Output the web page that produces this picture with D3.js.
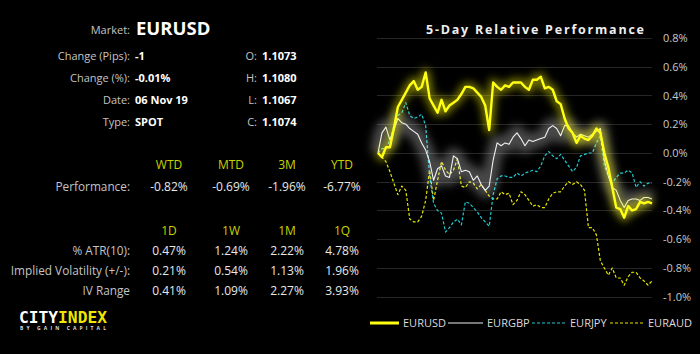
<!DOCTYPE html>
<html>
<head>
<meta charset="UTF-8">
<title>EURUSD 5-Day Relative Performance</title>
<style>
  body { margin: 0; background: #000; }
  svg { display: block; font-family: "Open Sans", sans-serif; }
  .lbl { fill: #c4c4c4; font-size: 11px; }
  .lbl2 { fill: #c4c4c4; font-size: 11.8px; }
  .val { fill: #fff; font-size: 11px; font-weight: bold; }
  .hdr { fill: #c8d200; font-size: 12px; }
  .num { fill: #e8e8e8; font-size: 12px; }
  .grid-line { stroke: #262626; stroke-width: 1; }
  .y-axis text { fill: #c8c8c8; font-size: 11px; font-family: "Open Sans", sans-serif; }
  .legend text { fill: #dcdcdc; font-size: 11px; }
</style>
</head>
<body>
<div class="panel"></div>
<script src="https://d3js.org/d3.v7.min.js"></script>
<script>
  var w = 700, h = 354;

  // market box
  var infoLeft = [["Change (Pips):", "-1"], ["Change (%):", "-0.01%"], ["Date:", "06 Nov 19"], ["Type:", "SPOT"]];
  var infoRight = [["O:", "1.1073"], ["H:", "1.1080"], ["L:", "1.1067"], ["C:", "1.1074"]];

  var perfHeaders = ["WTD", "MTD", "3M", "YTD"];
  var perfValues = ["-0.82%", "-0.69%", "-1.96%", "-6.77%"];

  var volHeaders = ["1D", "1W", "1M", "1Q"];
  var volRows = [
    ["% ATR(10):", "0.47%", "1.24%", "2.22%", "4.78%"],
    ["Implied Volatility (+/-):", "0.21%", "0.54%", "1.13%", "1.96%"],
    ["IV Range", "0.41%", "1.09%", "2.27%", "3.93%"]
  ];

  // 5-day relative performance, % (equal steps over 5 days)
  var eurusd = [0.00, -0.03, 0.04, 0.04, 0.17, 0.32, 0.37, 0.42, 0.47, 0.50,
    0.44, 0.46, 0.56, 0.38, 0.33, 0.28, 0.37, 0.29, 0.33, 0.35,
    0.37, 0.41, 0.46, 0.46, 0.45, 0.42, 0.39, 0.33, 0.16, 0.49,
    0.46, 0.44, 0.47, 0.46, 0.49, 0.49, 0.49, 0.46, 0.44, 0.51,
    0.51, 0.53, 0.45, 0.46, 0.44, 0.36, 0.34, 0.24, 0.17, 0.14,
    0.07, 0.12, 0.10, 0.09, 0.12, 0.17, 0.14, 0.00, -0.10, -0.24,
    -0.38, -0.39, -0.45, -0.37, -0.40, -0.39, -0.34, -0.35, -0.34, -0.35];
  var eurgbp = [0.00, 0.14, 0.18, 0.09, 0.16, 0.24, 0.21, 0.20, 0.17, 0.15,
    0.13, 0.07, 0.02, -0.06, -0.19, -0.11, -0.09, -0.16, -0.17, -0.02,
    -0.04, -0.13, -0.12, -0.13, -0.19, -0.16, -0.22, -0.26, -0.23, -0.05,
    0.07, 0.05, 0.07, 0.06, 0.11, 0.14, 0.10, 0.05, 0.09, 0.08,
    0.09, 0.10, 0.11, 0.17, 0.19, 0.17, 0.12, 0.19, 0.19, 0.14,
    0.11, 0.13, 0.12, 0.11, 0.13, 0.15, 0.17, -0.05, -0.16, -0.24,
    -0.26, -0.33, -0.38, -0.33, -0.32, -0.32, -0.33, -0.31, -0.31, -0.32];
  var eurjpy = [0.00, 0.03, 0.03, 0.09, 0.19, 0.26, 0.28, 0.35, 0.26, 0.24,
    0.25, 0.27, 0.19, -0.16, -0.35, -0.40, -0.42, -0.55, -0.52, -0.48,
    -0.46, -0.50, -0.34, -0.35, -0.38, -0.41, -0.45, -0.48, -0.51, -0.29,
    -0.18, -0.16, -0.16, -0.17, -0.17, -0.14, -0.16, -0.14, -0.13, -0.12,
    -0.13, -0.09, -0.02, 0.01, -0.02, -0.04, -0.01, -0.05, -0.09, -0.13,
    -0.10, -0.02, -0.01, 0.00, 0.00, 0.07, 0.12, -0.09, -0.16, -0.21,
    -0.17, -0.14, -0.14, -0.12, -0.14, -0.24, -0.20, -0.23, -0.21, -0.21];
  var euraud = [0.00, -0.03, -0.06, -0.13, -0.21, -0.29, -0.23, -0.26, -0.46, -0.48,
    -0.48, -0.44, -0.33, -0.12, -0.33, -0.19, -0.06, -0.12, -0.15, -0.12,
    -0.04, -0.23, -0.24, -0.20, -0.21, -0.25, -0.22, -0.26, -0.30, -0.32,
    -0.32, -0.27, -0.29, -0.28, -0.36, -0.33, -0.27, -0.29, -0.33, -0.37,
    -0.36, -0.38, -0.38, -0.32, -0.28, -0.27, -0.27, -0.23, -0.20, -0.22,
    -0.20, -0.22, -0.26, -0.52, -0.52, -0.57, -0.75, -0.80, -0.85, -0.80,
    -0.87, -0.87, -0.92, -0.86, -0.83, -0.83, -0.87, -0.89, -0.92, -0.89];

  var yTicks = [0.8, 0.6, 0.4, 0.2, 0.0, -0.2, -0.4, -0.6, -0.8, -1.0];

  var series = [
    { name: "EURUSD", values: eurusd, color: "#ffff14", width: 2.4, dash: null, glow: "#ffff00", glowW: 8, glowO: 0.5 },
    { name: "EURGBP", values: eurgbp, color: "#f0f0f0", width: 1.1, dash: null, glow: "#ffffff", glowW: 16, glowO: 0.28 },
    { name: "EURJPY", values: eurjpy, color: "#1ec9d2", width: 1.2, dash: "3,2", glow: null },
    { name: "EURAUD", values: euraud, color: "#e6e600", width: 1.2, dash: "3,2", glow: null }
  ];

  var SVG = d3.select("div.panel").append("svg")
    .attr("width", w).attr("height", h);

  SVG.append("rect").attr("width", w).attr("height", h).attr("fill", "#000");

  var defs = SVG.append("defs");
  defs.append("filter").attr("id", "glow")
    .attr("x", "-20%").attr("y", "-20%").attr("width", "140%").attr("height", "140%")
    .append("feGaussianBlur").attr("stdDeviation", 4.5);

  /* ---------- left panel ---------- */
  var left = SVG.append("g");

  left.append("text").attr("class", "lbl").attr("x", 130).attr("y", 34)
    .attr("text-anchor", "end").text("Market:");
  left.append("text").attr("x", 136).attr("y", 34.5)
    .attr("fill", "#fff").attr("font-size", 18.5).attr("font-weight", "bold")
    .text("EURUSD");

  var rowY = d3.scaleLinear().domain([0, 1]).range([59.5, 81.5]);

  infoLeft.forEach(function(d, i) {
    left.append("text").attr("class", "lbl").attr("x", 130).attr("y", rowY(i))
      .attr("text-anchor", "end").text(d[0]);
    left.append("text").attr("class", "val").attr("x", 135).attr("y", rowY(i)).text(d[1]);
  });
  infoRight.forEach(function(d, i) {
    left.append("text").attr("class", "lbl").attr("x", 257).attr("y", rowY(i))
      .attr("text-anchor", "end").text(d[0]);
    left.append("text").attr("class", "val").attr("x", 262).attr("y", rowY(i)).text(d[1]);
  });

  var colPos = [169, 231, 287, 342];

  perfHeaders.forEach(function(d, i) {
    left.append("text").attr("class", "hdr").attr("x", colPos[i]).attr("y", 168.5)
      .attr("text-anchor", "middle").text(d);
    left.append("text").attr("class", "num").attr("x", colPos[i]).attr("y", 191)
      .attr("text-anchor", "middle").text(perfValues[i]);
  });
  left.append("text").attr("class", "lbl2").attr("x", 130).attr("y", 191)
    .attr("text-anchor", "end").text("Performance:");

  volHeaders.forEach(function(d, i) {
    left.append("text").attr("class", "hdr").attr("x", colPos[i]).attr("y", 235)
      .attr("text-anchor", "middle").text(d);
  });
  volRows.forEach(function(r, j) {
    var y = 255 + j * 20;
    left.append("text").attr("class", "lbl2").attr("x", 130).attr("y", y)
      .attr("text-anchor", "end").text(r[0]);
    r.slice(1).forEach(function(v, i) {
      left.append("text").attr("class", "num").attr("x", colPos[i]).attr("y", y)
        .attr("text-anchor", "middle").text(v);
    });
  });

  // logo
  var logo = left.append("text").attr("x", 19).attr("y", 322.5)
    .attr("font-family", "DejaVu Sans Mono, monospace").attr("font-weight", "bold")
    .attr("font-size", 16).attr("textLength", 88).attr("lengthAdjust", "spacingAndGlyphs");
  logo.append("tspan").attr("fill", "#fff").text("CITY");
  logo.append("tspan").attr("fill", "#f2e600").text("INDEX");
  left.append("text").attr("x", 20).attr("y", 330)
    .attr("fill", "#ddd").attr("font-size", 5).attr("font-weight", "bold")
    .attr("textLength", 86).attr("lengthAdjust", "spacing")
    .text("BY GAIN CAPITAL");

  /* ---------- chart ---------- */
  var xScale = d3.scaleLinear().domain([0, eurusd.length - 1]).range([378, 652]);
  var yScale = d3.scaleLinear().domain([-1.0, 0.8]).range([296.7, 38]);

  SVG.append("text").attr("x", 426).attr("y", 34)
    .attr("fill", "#eee").attr("font-size", 12.5).attr("font-weight", "bold")
    .attr("textLength", 218).attr("lengthAdjust", "spacing")
    .text("5-Day Relative Performance");

  SVG.append("g").selectAll("line").data(yTicks).enter().append("line")
    .attr("class", "grid-line")
    .attr("x1", 377).attr("x2", 652)
    .attr("y1", function(d) { return Math.round(yScale(d)) + 0.5; })
    .attr("y2", function(d) { return Math.round(yScale(d)) + 0.5; });

  var yAxis = d3.axisRight(yScale).tickValues(yTicks).tickSize(0).tickPadding(0)
    .tickFormat(function(d) { return d3.format(".1f")(d).replace("\u2212", "-") + "%"; });
  var ga = SVG.append("g").attr("class", "y-axis")
    .attr("transform", "translate(663,0)").call(yAxis);
  ga.select(".domain").remove();

  var line = d3.line()
    .x(function(d, i) { return xScale(i); })
    .y(function(d) { return yScale(d); });

  var order = [series[3], series[2], series[1], series[0]];
  order.forEach(function(s) {
    if (s.glow) {
      SVG.append("path").datum(s.values)
        .attr("d", line).attr("fill", "none")
        .attr("stroke", s.glow).attr("stroke-width", s.glowW)
        .attr("stroke-opacity", s.glowO).attr("stroke-linejoin", "round")
        .attr("filter", "url(#glow)");
    }
    SVG.append("path").datum(s.values)
      .attr("d", line).attr("fill", "none")
      .attr("stroke", s.color).attr("stroke-width", s.width)
      .attr("stroke-linejoin", "round")
      .attr("stroke-dasharray", s.dash);
  });

  /* ---------- legend ---------- */
  var legPos = [[370, 399, 403], [448, 483, 487], [532, 567, 570], [610, 644, 648]];
  var leg = SVG.append("g").attr("class", "legend");
  series.forEach(function(s, i) {
    var p = legPos[i];
    leg.append("line").attr("x1", p[0]).attr("x2", p[1]).attr("y1", 323).attr("y2", 323)
      .attr("stroke", s.color).attr("stroke-width", i === 0 ? 3 : 1.2)
      .attr("stroke-dasharray", s.dash);
    leg.append("text").attr("x", p[2]).attr("y", 327).text(s.name);
  });
</script>
</body>
</html>
